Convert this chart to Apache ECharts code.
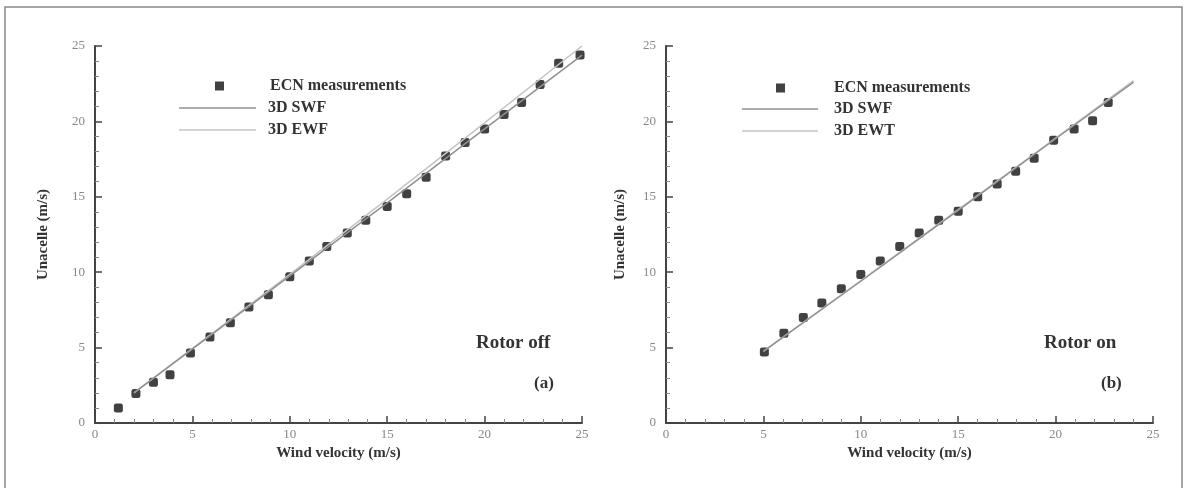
<!DOCTYPE html>
<html>
<head>
<meta charset="utf-8">
<script src="https://cdn.jsdelivr.net/npm/echarts@6/dist/echarts.min.js"></script>
<style>
  html, body { margin: 0; padding: 0; background: #fff; }
  #chart { width: 1187px; height: 488px; }
</style>
</head>
<body>
<div id="chart"></div>
<script>
// (a) rotor off - measured points
const offWind = [1.2, 2.1, 3, 3.85, 4.9, 5.9, 6.95, 7.9, 8.9, 10, 11, 11.9, 12.95, 13.9, 15, 16, 17, 18, 19, 20, 21, 21.9, 22.85, 23.8, 24.9];
const offNacelle = [1.0, 1.95, 2.7, 3.2, 4.65, 5.7, 6.65, 7.7, 8.5, 9.7, 10.75, 11.7, 12.6, 13.45, 14.35, 15.2, 16.3, 17.7, 18.6, 19.5, 20.45, 21.25, 22.45, 23.85, 24.4];
// (a) simulations
const offSwfWind = [2, 10, 15, 20, 25];
const offSwf = [2.0, 9.75, 14.6, 19.5, 24.4];
const offEwfWind = [2, 10, 15, 20, 25];
const offEwf = [2.0, 9.85, 14.85, 19.9, 25.0];

// (b) rotor on - measured points
const onWind = [5.05, 6.05, 7.05, 8.0, 9.0, 10, 11, 12, 13, 14, 15, 16, 17, 17.95, 18.9, 19.9, 20.95, 21.9, 22.7];
const onNacelle = [4.7, 5.95, 7.0, 7.95, 8.9, 9.85, 10.75, 11.7, 12.6, 13.45, 14.05, 15.0, 15.85, 16.7, 17.55, 18.75, 19.5, 20.05, 21.25];
// (b) simulations
const onSwfWind = [5, 10, 15, 20, 24];
const onSwf = [4.75, 9.4, 14.1, 18.85, 22.6];
const onEwtWind = [5, 10, 15, 20, 24];
const onEwt = [4.75, 9.45, 14.15, 18.9, 22.7];

const serif = "'Liberation Serif', 'DejaVu Serif', serif";
const chart = echarts.init(document.getElementById("chart"));

function pairs(xs, ys) {
  return xs.map((x, i) => [x, ys[i]]);
}

function xAxisOpt(grid) {
  return {
    gridIndex: grid,
    type: "value",
    min: 0,
    max: 25,
    interval: 5,
    name: "Wind velocity (m/s)",
    nameLocation: "middle",
    nameGap: 20,
    nameTextStyle: { fontFamily: serif, fontWeight: "bold", fontSize: 15, color: "#333" },
    axisLine: { show: true, onZero: false, lineStyle: { color: "#444", width: 2 } },
    axisTick: { show: true, inside: true, length: 7, lineStyle: { color: "#444", width: 1.5 } },
    minorTick: { show: true, splitNumber: 5, length: 4, lineStyle: { color: "#888" } },
    axisLabel: { fontFamily: serif, fontSize: 13, color: "#888", margin: 5 },
    splitLine: { show: false },
  };
}

function yAxisOpt(grid, gap) {
  return {
    gridIndex: grid,
    type: "value",
    min: 0,
    max: 25,
    interval: 5,
    name: "Unacelle (m/s)",
    nameLocation: "middle",
    nameGap: gap,
    nameTextStyle: { fontFamily: serif, fontWeight: "bold", fontSize: 15, color: "#333" },
    axisLine: { show: true, onZero: false, lineStyle: { color: "#444", width: 2 } },
    axisTick: { show: true, inside: true, length: 7, lineStyle: { color: "#444", width: 1.5 } },
    minorTick: { show: true, splitNumber: 5, length: 4, lineStyle: { color: "#888" } },
    axisLabel: { fontFamily: serif, fontSize: 13, color: "#888", margin: 10 },
    splitLine: { show: false },
  };
}

const legendText = { fontFamily: serif, fontWeight: "bold", fontSize: 16, color: "#333", lineHeight: 18 };

chart.setOption({
  animation: false,
  backgroundColor: "#fff",
  grid: [
    { left: 95, top: 46, width: 487, height: 377 },
    { left: 666, top: 46, width: 487, height: 377 },
  ],
  xAxis: [xAxisOpt(0), xAxisOpt(1)],
  yAxis: [yAxisOpt(0, 44), yAxisOpt(1, 38)],
  legend: [
    {
      data: ["ECN measurements"],
      left: 210, top: 72,
      icon: "rect", itemWidth: 9, itemHeight: 9,
      textStyle: Object.assign({ padding: [0, 0, 0, 41] }, legendText),
      selectedMode: false,
    },
    {
      data: ["3D SWF", "3D EWF"],
      orient: "vertical",
      left: 174, top: 94,
      icon: "rect", itemWidth: 77, itemHeight: 1.5, itemGap: 4,
      textStyle: Object.assign({ padding: [0, 0, 0, 7] }, legendText),
      selectedMode: false,
    },
    {
      data: ["ECN measurements"],
      left: 771, top: 74,
      icon: "rect", itemWidth: 9, itemHeight: 9,
      textStyle: Object.assign({ padding: [0, 0, 0, 44] }, legendText),
      selectedMode: false,
    },
    {
      data: ["3D SWF", "3D EWT"],
      orient: "vertical",
      left: 737, top: 95,
      icon: "rect", itemWidth: 76, itemHeight: 1.5, itemGap: 4,
      textStyle: Object.assign({ padding: [0, 0, 0, 11] }, legendText),
      selectedMode: false,
    },
  ],
  graphic: [
    {
      type: "rect",
      shape: { x: 5, y: 7, width: 1177, height: 500 },
      style: { fill: "none", stroke: "#888", lineWidth: 1.5 },
      silent: true,
    },
    { type: "text", left: 476, top: 334, style: { text: "Rotor off", font: "bold 19px " + serif, fill: "#333" } },
    { type: "text", left: 534, top: 375, style: { text: "(a)", font: "bold 17px " + serif, fill: "#333" } },
    { type: "text", left: 1044, top: 334, style: { text: "Rotor on", font: "bold 19px " + serif, fill: "#333" } },
    { type: "text", left: 1101, top: 375, style: { text: "(b)", font: "bold 17px " + serif, fill: "#333" } },
  ],
  series: [
    {
      name: "3D EWF", type: "line", xAxisIndex: 0, yAxisIndex: 0,
      data: pairs(offEwfWind, offEwf), symbol: "none",
      lineStyle: { color: "#c4c4c4", width: 1.5 }, itemStyle: { color: "#c4c4c4" },
    },
    {
      name: "3D SWF", type: "line", xAxisIndex: 0, yAxisIndex: 0,
      data: pairs(offSwfWind, offSwf), symbol: "none",
      lineStyle: { color: "#909090", width: 1.5 }, itemStyle: { color: "#909090" },
    },
    {
      name: "ECN measurements", type: "scatter", xAxisIndex: 0, yAxisIndex: 0,
      data: pairs(offWind, offNacelle), symbol: "roundRect", symbolSize: 9,
      itemStyle: { color: "#111" },
    },
    {
      name: "3D EWT", type: "line", xAxisIndex: 1, yAxisIndex: 1,
      data: pairs(onEwtWind, onEwt), symbol: "none",
      lineStyle: { color: "#c4c4c4", width: 1.5 }, itemStyle: { color: "#c4c4c4" },
    },
    {
      name: "3D SWF", type: "line", xAxisIndex: 1, yAxisIndex: 1,
      data: pairs(onSwfWind, onSwf), symbol: "none",
      lineStyle: { color: "#909090", width: 1.5 }, itemStyle: { color: "#909090" },
    },
    {
      name: "ECN measurements", type: "scatter", xAxisIndex: 1, yAxisIndex: 1,
      data: pairs(onWind, onNacelle), symbol: "roundRect", symbolSize: 9,
      itemStyle: { color: "#111" },
    },
  ],
});
</script>
</body>
</html>
